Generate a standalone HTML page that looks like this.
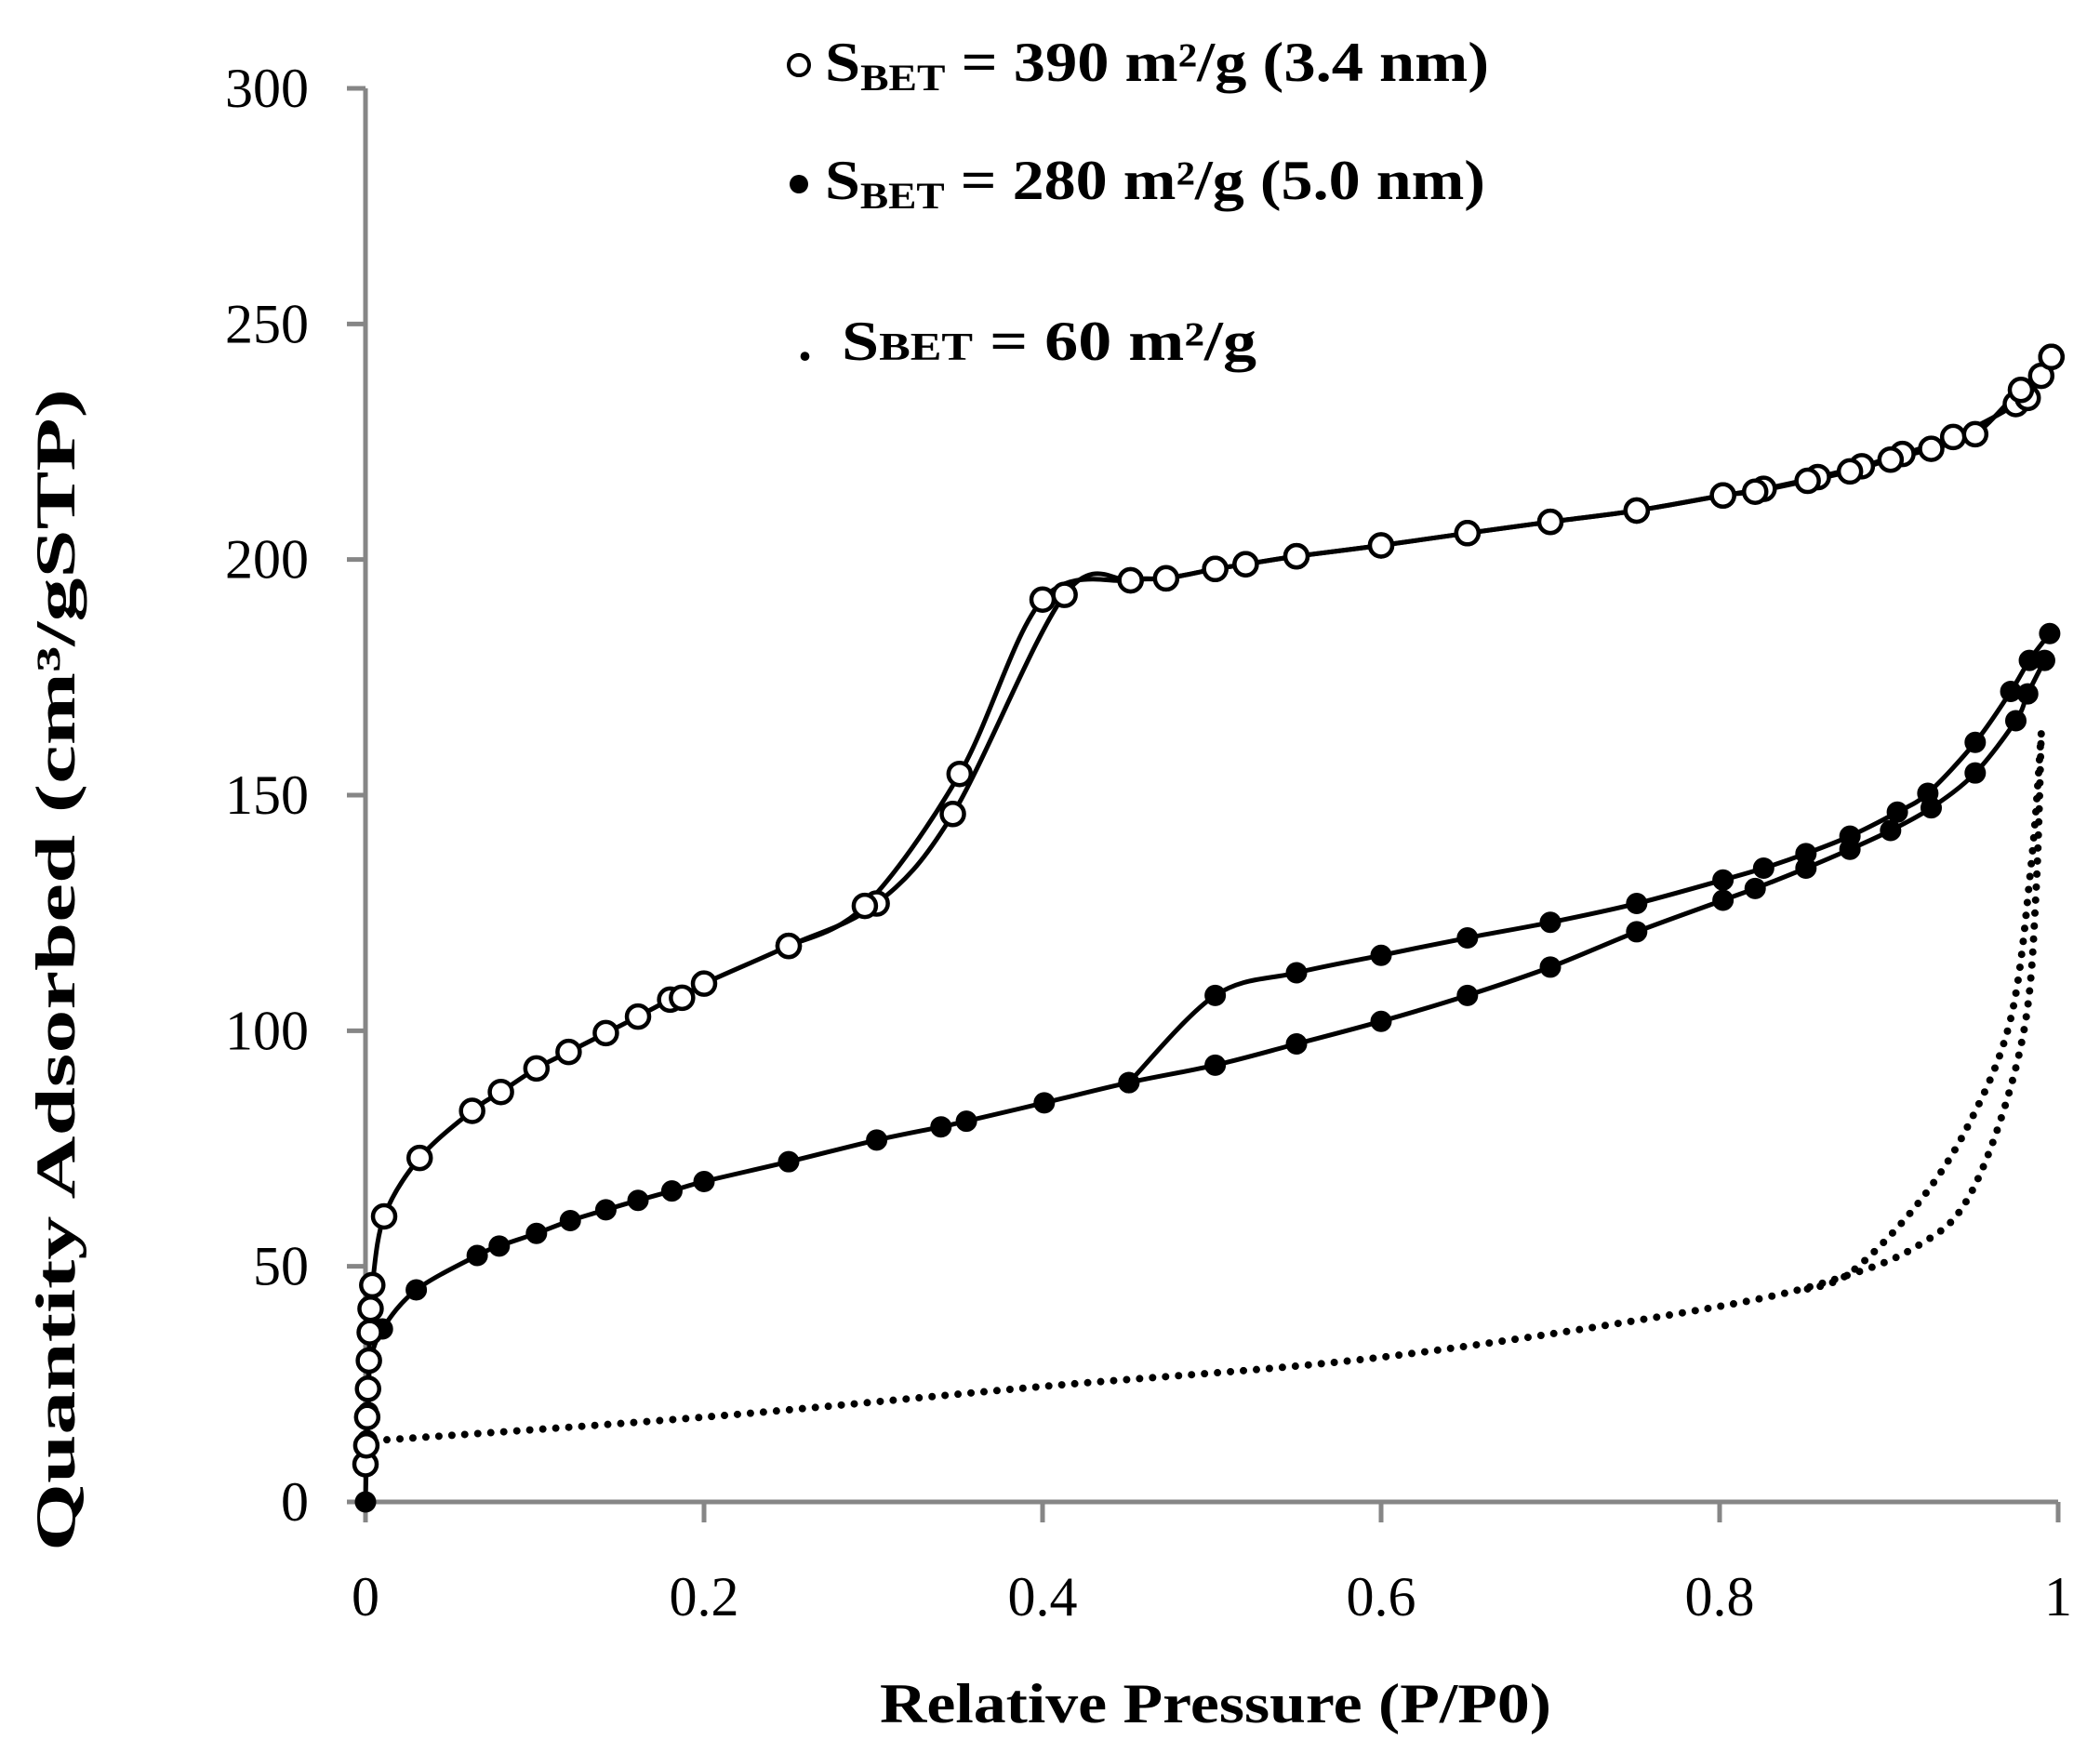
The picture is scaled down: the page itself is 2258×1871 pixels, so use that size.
<!DOCTYPE html>
<html><head><meta charset="utf-8"><style>
html,body{margin:0;padding:0;background:#fff;}
svg{display:block;}
text{font-family:"Liberation Serif",serif;fill:#000;}
</style></head><body>
<svg id="chart" width="2258" height="1871" viewBox="0 0 2258 1871" xmlns="http://www.w3.org/2000/svg">
<g id="axes"></g>
<g id="series"></g>
<text x="1307" y="1852" text-anchor="middle" font-size="60" font-weight="bold" textLength="722" lengthAdjust="spacingAndGlyphs">Relative Pressure (P/P0)</text>
<text transform="translate(80,1043) rotate(-90)" text-anchor="middle" font-size="60" font-weight="bold" textLength="1250" lengthAdjust="spacingAndGlyphs">Quantity Adsorbed (cm³/gSTP)</text>
<g>
  <circle cx="859" cy="70" r="11" fill="#fff" stroke="#000" stroke-width="4"/>
  <text x="887" y="87" font-size="60" font-weight="bold" textLength="714" lengthAdjust="spacingAndGlyphs">S<tspan font-size="40" dy="10">BET</tspan><tspan dy="-10"> = 390 m²/g (3.4 nm)</tspan></text>
  <circle cx="859" cy="198" r="10" fill="#000"/>
  <text x="887" y="214" font-size="60" font-weight="bold" textLength="710" lengthAdjust="spacingAndGlyphs">S<tspan font-size="40" dy="10">BET</tspan><tspan dy="-10"> = 280 m²/g (5.0 nm)</tspan></text>
  <text x="858" y="387" font-size="60" font-weight="bold">.</text>
  <text x="905" y="387" font-size="60" font-weight="bold" textLength="446" lengthAdjust="spacingAndGlyphs">S<tspan font-size="42">BET</tspan> =  60  m²/g</text>
</g>
</svg>
<script>
const xTicks=[0,0.2,0.4,0.6,0.8,1];
const xTickLabels=["0","0.2","0.4","0.6","0.8","1"];
const yTicks=[0,50,100,150,200,250,300];
const yTickLabels=["0","50","100","150","200","250","300"];
// open series (390 m2/g)
const openAdsP=[0,0.0005,0.001,0.0015,0.002,0.0025,0.003,0.004,0.011,0.032,0.063,0.08,0.101,0.12,0.142,0.161,0.18,0.187,0.2,0.25,0.302,0.347,0.413,0.452,0.473,0.502,0.52,0.55,0.6,0.651,0.7,0.751,0.802,0.826,0.858,0.884,0.908,0.938,0.975,0.99,0.996];
const openAdsV=[8,12,18,24,30,36,41,46,60.6,73,83,87,92,95.5,99.5,103,106.6,107,110,118,127,146,192.5,195.6,196,198,199,200.7,203,205.6,208,210.4,213.6,215,217.5,219.8,222.4,226,233,239,243];
const openDesP=[0.996,0.982,0.978,0.951,0.925,0.901,0.877,0.852,0.821,0.802,0.751,0.7,0.651,0.6,0.55,0.52,0.502,0.473,0.452,0.4,0.351,0.295,0.25];
const openDesV=[243,234.3,236,226.6,223.5,221.2,218.7,216.7,214.4,213.6,210.4,208,205.6,203,200.7,199,198,196,195.6,191.5,154.5,126.5,118];
// filled series (280 m2/g)
const fillAdsP=[0,0.0005,0.001,0.0015,0.002,0.003,0.01,0.03,0.066,0.079,0.101,0.121,0.142,0.161,0.181,0.2,0.25,0.302,0.34,0.355,0.401,0.451,0.502,0.55,0.6,0.651,0.7,0.751,0.802,0.821,0.851,0.877,0.901,0.925,0.951,0.975,0.982,0.992];
const fillAdsV=[0,8,13,19,24,30,36.7,45,52.3,54.3,57,59.7,62,64,66,68,72.2,76.8,79.6,80.8,84.7,89,92.7,97.2,102,107.5,113.5,121,127.7,130.2,134.5,138.5,142.5,147.3,154.7,165.8,171.5,178.6];
const fillDesP=[0.995,0.983,0.972,0.951,0.923,0.905,0.877,0.851,0.826,0.802,0.751,0.7,0.651,0.6,0.55,0.502,0.451];
const fillDesV=[184.3,178.6,172,161.2,150.4,146.4,141.3,137.6,134.5,132,127,123,119.7,116,112.3,107.5,89];
// dotted series (60 m2/g)
const dotAdsP=[0.005,0.2,0.4,0.6,0.8,0.88,0.92,0.944,0.965,0.981,0.987,0.99];
const dotAdsV=[13,18,24.5,30.7,41.5,48.6,55,62.8,80,102.6,130,163];
const dotDesP=[0.99,0.984,0.972,0.947,0.916,0.877,0.85];
const dotDesV=[163,135,102.6,80,62.8,48.6,45];

const X0=393,X1=2213,Y0=1615,Y300=95;
function xs(p){return X0+(X1-X0)*p;}
function ys(v){return Y0-(Y0-Y300)*v/300;}
const NS="http://www.w3.org/2000/svg";
function mk(tag,attrs,parent){const e=document.createElementNS(NS,tag);for(const k in attrs)e.setAttribute(k,attrs[k]);parent.appendChild(e);return e;}
const axes=document.getElementById('axes');
const series=document.getElementById('series');

let e=mk('line',{x1:X0,y1:Y0,x2:X1,y2:Y0,stroke:'#868686','stroke-width':5},axes);


e=mk('line',{x1:X0,y1:Y0,x2:X0,y2:Y300,stroke:'#868686','stroke-width':5},axes);


xTicks.forEach((t,i)=>{
  const l=mk('line',{x1:xs(t),y1:Y0,x2:xs(t),y2:Y0+22,stroke:'#868686','stroke-width':5},axes);
  
  
  const tx=mk('text',{x:xs(t),y:1737,'text-anchor':'middle','font-size':60},axes);
  tx.textContent=xTickLabels[i];
  
  
});
yTicks.forEach((t,i)=>{
  const l=mk('line',{x1:X0-20,y1:ys(t),x2:X0,y2:ys(t),stroke:'#868686','stroke-width':5},axes);
  
  
  const tx=mk('text',{x:332,y:ys(t)+20,'text-anchor':'end','font-size':60},axes);
  tx.textContent=yTickLabels[i];
  
  
});

function smooth(P,V){
  const pts=P.map((p,i)=>[xs(p),ys(V[i])]);
  let d='M'+pts[0][0]+','+pts[0][1];
  for(let i=0;i<pts.length-1;i++){
    const p0=pts[i-1]||pts[i],p1=pts[i],p2=pts[i+1],p3=pts[i+2]||p2;
    const c1=[p1[0]+(p2[0]-p0[0])/6,p1[1]+(p2[1]-p0[1])/6];
    const c2=[p2[0]-(p3[0]-p1[0])/6,p2[1]-(p3[1]-p1[1])/6];
    d+=' C'+c1[0]+','+c1[1]+' '+c2[0]+','+c2[1]+' '+p2[0]+','+p2[1];
  }
  return d;
}
function line(P,V,name,dotted){
  const a={d:smooth(P,V),fill:'none',stroke:'#000','stroke-width':dotted?8:5};
  if(dotted){a['stroke-dasharray']='0 14';a['stroke-linecap']='round';}
  const p=mk('path',a,series);
  
  
}
function markers(P,V,name,open){
  P.forEach((p,i)=>{
    const c=mk('circle',{cx:xs(p),cy:ys(V[i]),r:open?12:11,fill:open?'#fff':'#000',stroke:'#000','stroke-width':open?4.5:1},series);
    
    
  });
}
line(dotAdsP,dotAdsV,'dotted-adsorption-line',true);
line(dotDesP,dotDesV,'dotted-desorption-line',true);
line(fillAdsP,fillAdsV,'filled-adsorption-line',false);
line(fillDesP,fillDesV,'filled-desorption-line',false);
line(openAdsP,openAdsV,'open-adsorption-line',false);
line(openDesP,openDesV,'open-desorption-line',false);
markers(fillAdsP,fillAdsV,'filled-adsorption-point',false);
markers(fillDesP,fillDesV,'filled-desorption-point',false);
markers(openAdsP,openAdsV,'open-adsorption-point',true);
markers(openDesP,openDesV,'open-desorption-point',true);
</script>
</body></html>
